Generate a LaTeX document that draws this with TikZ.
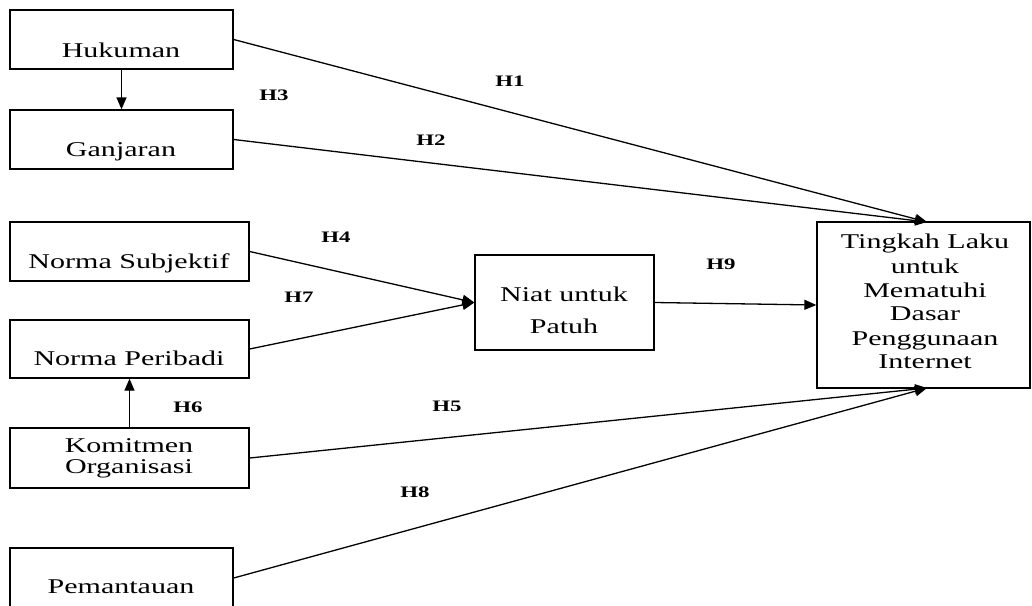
\documentclass[tikz,border=0pt]{standalone}
\usepackage{fontspec}
\setmainfont{Liberation Serif}
\newfontfamily\boxfont[FakeStretch=1.43]{Liberation Serif}
\usetikzlibrary{arrows.meta}
\tikzset{
  boxnode/.style={draw, line width=1.3pt, inner sep=0pt, minimum width=#1},
  boxtext/.style={anchor=base, inner sep=0pt, font=\boxfont\fontsize{21}{24}\selectfont},
  hlabel/.style={anchor=base, inner sep=0pt, font=\boxfont\fontsize{16}{18}\selectfont\bfseries},
  conn/.style={line width=1.3pt},
  arr/.style={line width=1.3pt, -{Triangle[length=12pt,width=10pt]}}
}
\begin{document}
\begin{tikzpicture}[x=1pt,y=-1pt]
\useasboundingbox[fill=white] (0,0) rectangle (1032,605);
% boxes
\node[boxnode=223pt, minimum height=59pt] (huk) at (121.5,39.5) {};
\node[boxnode=223pt, minimum height=59pt] (gan) at (121.5,139.5) {};
\node[boxnode=239pt, minimum height=59pt] (ns) at (129.5,251.5) {};
\node[boxnode=239pt, minimum height=58pt] (np) at (129.5,349) {};
\node[boxnode=239pt, minimum height=60pt] (ko) at (129.5,458) {};
\node[boxnode=223pt, minimum height=60pt] (pm) at (121.5,578) {};
\node[boxnode=179pt, minimum height=95pt] (niat) at (564.5,302.5) {};
\node[boxnode=213pt, minimum height=166pt] (tgt) at (923.5,305) {};
% texts
\node[boxtext] (thuk) at (121,57) {Hukuman};
\node[boxtext] (tgan) at (121,156) {Ganjaran};
\node[boxtext] (tns) at (129,268) {Norma Subjektif};
\node[boxtext] (tnp) at (129,365) {Norma Peribadi};
\node[boxtext] (tko1) at (129,452) {Komitmen};
\node[boxtext] (tko2) at (129,473) {Organisasi};
\node[boxtext] (tpm) at (121,593) {Pemantauan};
\node[boxtext] (tni1) at (564,301) {Niat untuk};
\node[boxtext] (tni2) at (564,333) {Patuh};
\node[boxtext] (tt1) at (925,248) {Tingkah Laku};
\node[boxtext] (tt2) at (925,273) {untuk};
\node[boxtext] (tt3) at (925,297) {Mematuhi};
\node[boxtext] (tt4) at (925,320) {Dasar};
\node[boxtext] (tt5) at (925,345) {Penggunaan};
\node[boxtext] (tt6) at (925,368) {Internet};
% connector end points
\coordinate (ttop) at (927,222);
\coordinate (tbot) at (927,388);
% connectors
\draw[arr] (huk.south) -- (gan.north);
\draw[arr] (ko.north) -- (np.south);
\draw[arr] (huk.east) -- (ttop);
\draw[arr] (gan.east) -- (ttop);
\draw[arr] (ns.east) -- (niat.west);
\draw[arr] (np.east) -- (niat.west);
\draw[arr] (niat.east) -- (tgt.west);
\draw[arr] (ko.east) -- (tbot);
\draw[arr] (pm.east) -- (tbot);
% labels
\node[hlabel] (h1) at (510,86) {H1};
\node[hlabel] (h3) at (274,100) {H3};
\node[hlabel] (h2) at (431,145) {H2};
\node[hlabel] (h4) at (336,242) {H4};
\node[hlabel] (h7) at (299,302) {H7};
\node[hlabel] (h9) at (721,269) {H9};
\node[hlabel] (h6) at (188,412) {H6};
\node[hlabel] (h5) at (447,411) {H5};
\node[hlabel] (h8) at (415,497) {H8};
\end{tikzpicture}
\end{document}
